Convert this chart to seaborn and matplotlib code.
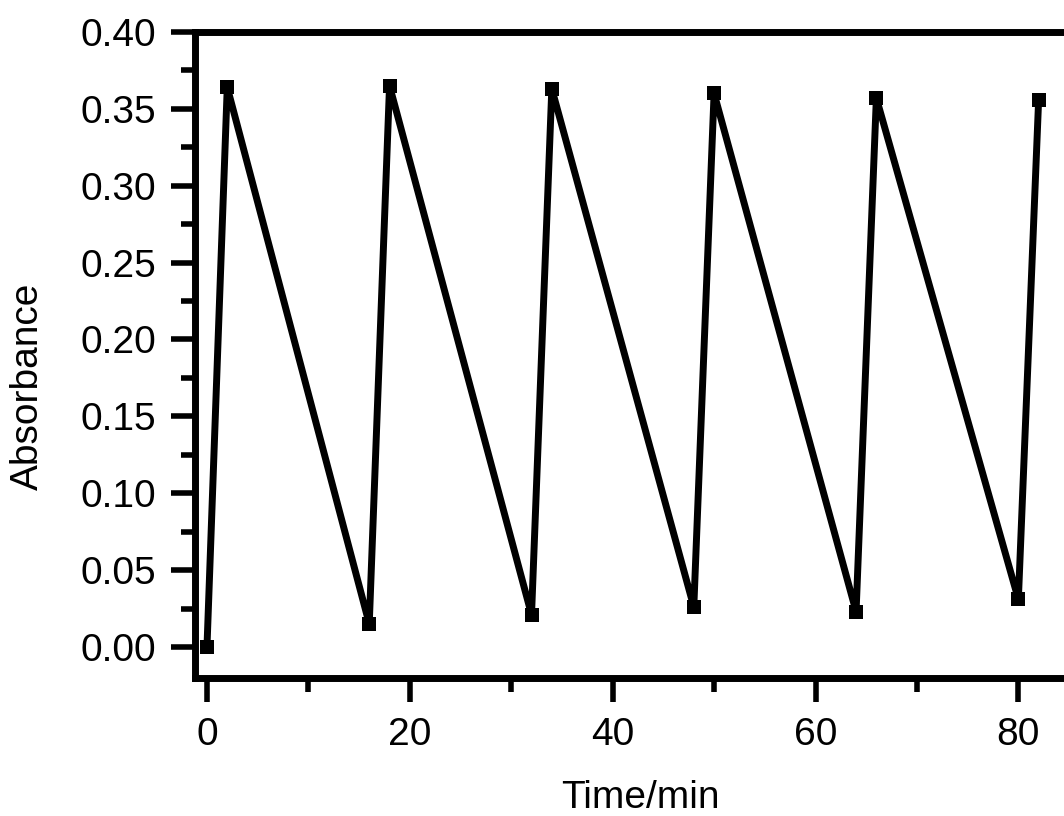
import numpy as np
import pandas as pd
import matplotlib
matplotlib.use("Agg")
import matplotlib.pyplot as plt
from matplotlib.ticker import MultipleLocator
import seaborn as sns

# cycling data
time_min = [0, 2, 16, 18, 32, 34, 48, 50, 64, 66, 80, 82]
absorbance = [0.000, 0.364, 0.015, 0.365, 0.021, 0.363, 0.026, 0.360, 0.023, 0.357, 0.031, 0.356]
x_major = [0, 20, 40, 60, 80]
y_major = [0.00, 0.05, 0.10, 0.15, 0.20, 0.25, 0.30, 0.35, 0.40]

sns.set_style("ticks")
plt.rcParams['font.family'] = ['Liberation Sans', 'DejaVu Sans']
plt.rcParams.update({"text.color": "black", "axes.labelcolor": "black",
                     "xtick.color": "black", "ytick.color": "black"})

df = pd.DataFrame({"time": time_min, "abs": absorbance})

fig = plt.figure(figsize=(10.64, 8.16), dpi=100)
ax = fig.add_axes([195 / 1064, 138 / 816, 869 / 1064, 646 / 816])

sns.lineplot(data=df, x="time", y="abs", sort=False, color="black",
             linewidth=5, marker="s", markersize=10, markeredgewidth=0,
             markerfacecolor="black", ax=ax)

ax.set_xlim(-1.18, 84.5)
ax.set_ylim(-0.0202, 0.40)
ax.set_xticks(x_major)
ax.set_yticks(y_major)
ax.set_xticklabels([str(v) for v in x_major])
ax.set_yticklabels(["{:.2f}".format(v) for v in y_major])
ax.xaxis.set_minor_locator(MultipleLocator(10))
ax.yaxis.set_minor_locator(MultipleLocator(0.025))

ax.tick_params(which="major", direction="out", length=17, width=4,
               labelsize=28, pad=11, colors="black")
ax.tick_params(which="minor", direction="out", length=10, width=4, colors="black")

for side in ["left", "top", "bottom"]:
    ax.spines[side].set_linewidth(5)
    ax.spines[side].set_color("black")
ax.spines["right"].set_visible(False)

ax.set_xlabel("Time/min", fontsize=28)
ax.set_ylabel("Absorbance", fontsize=28)
ax.xaxis.set_label_coords((640 - 195) / 869, (678 - 798) / 646)
ax.yaxis.set_label_coords((28 - 195) / 869, (678 - 386) / 646)
ax.xaxis.label.set_va("center")
ax.yaxis.label.set_va("center")

fig.savefig("out.png", dpi=100)
